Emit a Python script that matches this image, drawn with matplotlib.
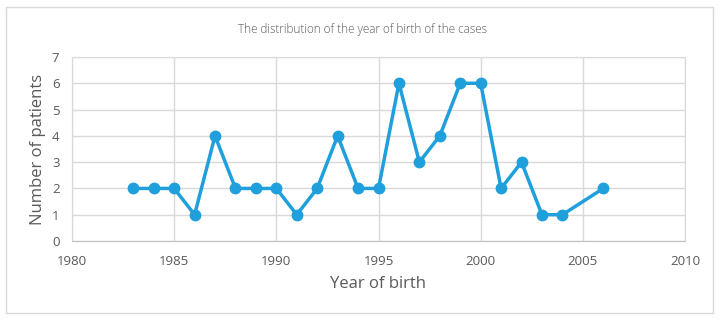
import matplotlib
matplotlib.use("Agg")
import matplotlib.pyplot as plt
from matplotlib.patches import Rectangle

years = [1983, 1984, 1985, 1986, 1987, 1988, 1989, 1990, 1991, 1992, 1993, 1994,
         1995, 1996, 1997, 1998, 1999, 2000, 2001, 2002, 2003, 2004, 2006]
patients = [2, 2, 2, 1, 4, 2, 2, 2, 1, 2, 4, 2, 2, 6, 3, 4, 6, 6, 2, 3, 1, 1, 2]
x_ticks = [1980, 1985, 1990, 1995, 2000, 2005, 2010]
y_ticks = [0, 1, 2, 3, 4, 5, 6, 7]

plt.rcParams["font.family"] = ["Open Sans", "DejaVu Sans"]
txt = "#595959"
grid_c = "#d9d9d9"
line_c = "#1f9fdb"

fig = plt.figure(figsize=(7.26, 3.24), dpi=100)
fig.patches.append(Rectangle((6 / 726, 1 - 313 / 324), 707 / 726, 306 / 324,
                             transform=fig.transFigure, fill=False,
                             edgecolor=grid_c, linewidth=1))
ax = fig.add_axes([72 / 726, 1 - 241 / 324, 613 / 726, 184 / 324])

ax.plot(years, patients, color=line_c, linewidth=2.5, marker="o",
        markersize=7.5, zorder=3)

ax.set_xlim(1980, 2010)
ax.set_ylim(0, 7)
ax.set_xticks(x_ticks)
ax.set_yticks(y_ticks)
ax.grid(True, color=grid_c, linewidth=1)
ax.set_axisbelow(True)
for s in ["top", "right", "left"]:
    ax.spines[s].set_color(grid_c)
ax.spines["bottom"].set_color("#bfbfbf")
ax.tick_params(axis="x", length=0, colors=txt, labelsize=9.5, pad=10)
ax.tick_params(axis="y", length=0, colors=txt, labelsize=9.5, pad=9)

ax.set_xlabel("Year of birth", color=txt, fontsize=12, labelpad=6)
ax.set_ylabel("Number of patients", color=txt, fontsize=12, labelpad=4)
fig.text(0.5, 1 - 29 / 324, "The distribution of the year of birth of the cases",
         ha="center", va="center", color=txt, fontsize=8.5, fontweight="light")

fig.savefig("out.png", dpi=100)
